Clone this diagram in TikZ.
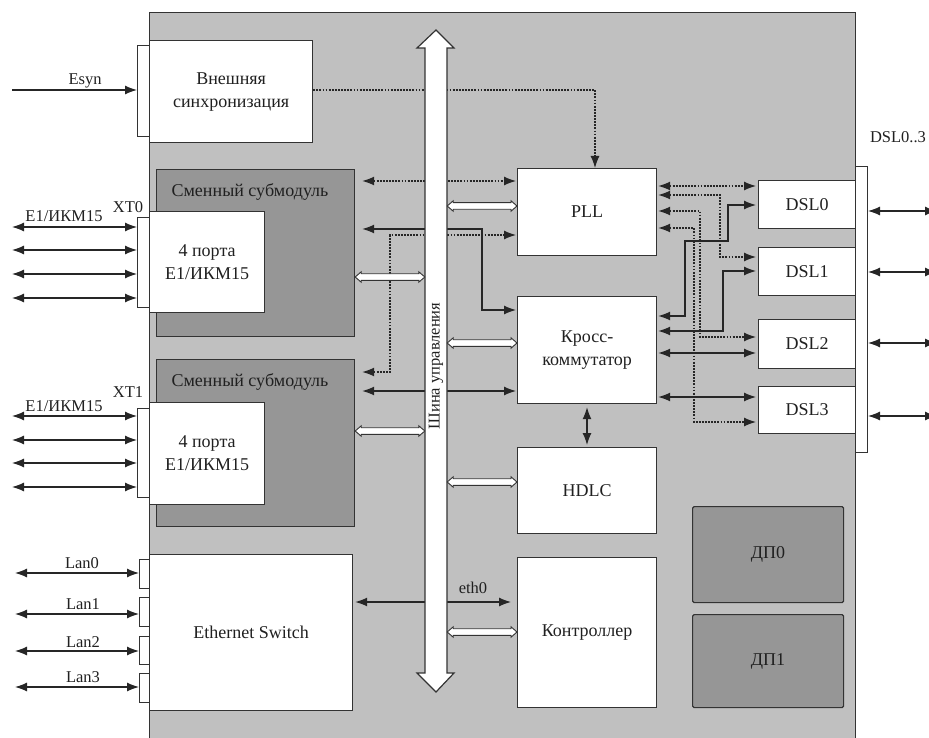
\documentclass[tikz,border=0pt]{standalone}
\usepackage{fontspec}
\setmainfont{Liberation Serif}
\usetikzlibrary{arrows.meta,calc}
\definecolor{panelgray}{HTML}{C0C0C0}
\definecolor{darkgray}{HTML}{969696}
\definecolor{edgecol}{HTML}{333333}
\definecolor{txtcol}{HTML}{202020}
\newcommand\blkfont{\fontsize{18}{23}\selectfont}
\newcommand\lblfont{\fontsize{16.5}{19}\selectfont}
\newcommand\hollowarr[2]{%
  \draw[edgecol, line width=0.9pt, fill=white] let \p1=#1, \p2=#2 in
    (\x1,\y1) -- (\x1+6pt,\y1+5.2pt) -- (\x1+6pt,\y1+3.3pt) -- (\x2-6pt,\y1+3.3pt)
    -- (\x2-6pt,\y1+5.2pt) -- (\x2,\y1) -- (\x2-6pt,\y1-5.2pt) -- (\x2-6pt,\y1-3.3pt)
    -- (\x1+6pt,\y1-3.3pt) -- (\x1+6pt,\y1-5.2pt) -- cycle;}
\begin{document}
\begin{tikzpicture}[x=1pt,y=-1pt,
  >={Latex[length=12pt,width=9pt]},
  whitebox/.style={draw=edgecol, line width=1.2pt, fill=white, anchor=north west,
    inner sep=0pt, font=\blkfont, text=txtcol, align=center},
  darkbox/.style={whitebox, fill=darkgray},
  tabbox/.style={draw=edgecol, line width=1pt, fill=white, anchor=north west, inner sep=0pt},
  lbl/.style={font=\lblfont, text=txtcol, anchor=base, inner sep=0pt},
  conline/.style={line width=1.2pt, draw=black!85},
  dotline/.style={conline, dash pattern=on 1.8pt off 1.3pt}]
\useasboundingbox (0,0) rectangle (929,738);
% main panel
\node[draw=edgecol, line width=1.2pt, fill=panelgray, anchor=north west, inner sep=0pt,
  minimum width=706pt, minimum height=740pt] (panel) at (149,12) {};
% blocks
\node[whitebox, minimum width=163pt, minimum height=102pt] (ext) at (149,40) {Внешняя\\синхронизация};
\node[tabbox, minimum width=12pt, minimum height=91pt] (tabE) at (137,45) {};
\node[darkbox, minimum width=198pt, minimum height=167pt] (sm1) at (156,169) {};
\node[lbl, font=\blkfont] (sm1l) at (250,197) {Сменный субмодуль};
\node[whitebox, minimum width=115pt, minimum height=101pt] (p1) at (149,211) {4 порта\\E1/ИКМ15};
\node[tabbox, minimum width=12pt, minimum height=90pt] (tab0) at (137,217) {};
\node[darkbox, minimum width=198pt, minimum height=167pt] (sm2) at (156,359) {};
\node[lbl, font=\blkfont] (sm2l) at (250,386) {Сменный субмодуль};
\node[whitebox, minimum width=115pt, minimum height=102pt] (p2) at (149,402) {4 порта\\E1/ИКМ15};
\node[tabbox, minimum width=12pt, minimum height=89pt] (tab1) at (137,408) {};
\node[whitebox, minimum width=203pt, minimum height=156pt] (eth) at (149,554) {Ethernet Switch};
\node[tabbox, minimum width=10pt, minimum height=29pt] (lan0) at (139,559) {};
\node[tabbox, minimum width=10pt, minimum height=29pt] (lan1) at (139,597) {};
\node[tabbox, minimum width=10pt, minimum height=28pt] (lan2) at (139,636) {};
\node[tabbox, minimum width=10pt, minimum height=29pt] (lan3) at (139,673) {};
\node[whitebox, minimum width=139pt, minimum height=87pt] (pll) at (517,168) {PLL};
\node[whitebox, minimum width=139pt, minimum height=107pt] (cross) at (517,296) {Кросс-\\коммутатор};
\node[whitebox, minimum width=139pt, minimum height=86pt] (hdlc) at (517,447) {HDLC};
\node[whitebox, minimum width=139pt, minimum height=150pt] (ctrl) at (517,557) {Контроллер};
\node[whitebox, minimum width=97pt, minimum height=48pt] (dsl0) at (758,180) {DSL0};
\node[whitebox, minimum width=97pt, minimum height=48pt] (dsl1) at (758,247) {DSL1};
\node[whitebox, minimum width=97pt, minimum height=49pt] (dsl2) at (758,319) {DSL2};
\node[whitebox, minimum width=97pt, minimum height=47pt] (dsl3) at (758,386) {DSL3};
\node[tabbox, minimum width=12pt, minimum height=286pt] (dtab) at (855,166) {};
\node[darkbox, minimum width=151pt, minimum height=96pt, rounded corners=1.5pt] (dp0) at (692,506) {ДП0};
\node[darkbox, minimum width=151pt, minimum height=93pt, rounded corners=1.5pt] (dp1) at (692,614) {ДП1};
% labels
\node[lbl] (esynl) at (85,85) {Esyn};
\node[lbl] (xt0l) at (128,213) {XT0};
\node[lbl] (xt1l) at (128,397) {XT1};
\node[lbl] (e1a) at (64,222) {E1/ИКМ15};
\node[lbl] (e1b) at (64,411) {E1/ИКМ15};
\node[lbl] (lan0l) at (82,568) {Lan0};
\node[lbl] (lan1l) at (83,609) {Lan1};
\node[lbl] (lan2l) at (83,647) {Lan2};
\node[lbl] (lan3l) at (83,682) {Lan3};
\node[lbl] (eth0l) at (473,593) {eth0};
\node[lbl] (dsll) at (898,143) {DSL0..3};
% free ends
\coordinate (esynin) at (12,90);
\draw[conline,->] (esynin) -- (tabE.west |- esynin);
\foreach \yy [count=\i] in {227,250,274,298}{
  \coordinate (xa\i) at (12,\yy);
  \draw[conline,<->] (xa\i) -- (tab0.west |- xa\i);}
\foreach \yy [count=\i] in {416,440,463,487}{
  \coordinate (xb\i) at (12,\yy);
  \draw[conline,<->] (xb\i) -- (tab1.west |- xb\i);}
\coordinate (la0) at (15,573);
\coordinate (la1) at (15,614);
\coordinate (la2) at (15,651);
\coordinate (la3) at (15,687);
\draw[conline,<->] (la0) -- (lan0.west |- la0);
\draw[conline,<->] (la1) -- (lan1.west |- la1);
\draw[conline,<->] (la2) -- (lan2.west |- la2);
\draw[conline,<->] (la3) -- (lan3.west |- la3);
\foreach \yy [count=\i] in {211,272,343,416}{
  \coordinate (dr\i) at (937,\yy);
  \draw[conline,<->] (dtab.east |- dr\i) -- (dr\i);}
% sync
\draw[dotline,->] (ext.east |- 0,90) -| (pll.north -| 595,0);
% left of bus
\draw[dotline,<->,shorten <=7pt,shorten >=1pt] (sm1.east |- 0,181) -- (pll.west |- 0,181);
\draw[conline,<->,shorten <=7pt,shorten >=1pt] (sm1.east |- 0,229) -- (482,229) |- (cross.west |- 0,310);
\draw[dotline,<->,shorten <=7pt,shorten >=1pt] (sm2.east |- 0,372) -- (390,372) |- (pll.west |- 0,235);
\draw[conline,<->,shorten <=7pt,shorten >=1pt] (sm2.east |- 0,391) -- (cross.west |- 0,391);
\draw[conline,<->,shorten <=2pt,shorten >=6pt] (eth.east |- 0,602) -- (ctrl.west |- 0,602);
\draw[conline,<->,shorten <=3pt,shorten >=2pt] (cross.south -| 587,0) -- (hdlc.north -| 587,0);
% right side
\draw[dotline,<->,shorten <=1pt,shorten >=2pt] (pll.east |- 0,186) -- (dsl0.west |- 0,186);
\draw[dotline,<->,shorten <=1pt,shorten >=2pt] (pll.east |- 0,195) -- (720,195) |- (dsl1.west |- 0,257);
\draw[dotline,<->,shorten <=1pt,shorten >=2pt] (pll.east |- 0,211) -- (700,211) |- (dsl2.west |- 0,337);
\draw[dotline,<->,shorten <=1pt,shorten >=2pt] (pll.east |- 0,228) -- (694,228) |- (dsl3.west |- 0,422);
\draw[conline,<->,shorten <=1pt,shorten >=2pt] (cross.east |- 0,316) -- (685,316) -- (685,241) -- (728,241) |- (dsl0.west |- 0,205);
\draw[conline,<->,shorten <=1pt,shorten >=2pt] (cross.east |- 0,331) -- (723,331) |- (dsl1.west |- 0,271);
\draw[conline,<->,shorten <=1pt,shorten >=2pt] (cross.east |- 0,353) -- (dsl2.west |- 0,353);
\draw[conline,<->,shorten <=1pt,shorten >=2pt] (cross.east |- 0,397) -- (dsl3.west |- 0,397);
% bus
\node[inner sep=0pt, minimum width=22pt, minimum height=625pt] (bus) at (436,360.5) {};
\draw[edgecol, line width=1.2pt, fill=white] (425,48) -- (417,48) -- (436,30) -- (454,48) -- (447,48)
  -- (447,673) -- (454,673) -- (436,692) -- (417,673) -- (425,673) -- cycle;
\node[font=\lblfont, text=txtcol, rotate=90, inner sep=0pt] (busl) at (436,366) {Шина управления};
% hollow arrows
\hollowarr{(bus.east |- 0,206)}{(pll.west |- 0,206)}
\hollowarr{(sm1.east |- 0,277)}{(bus.west |- 0,277)}
\hollowarr{(bus.east |- 0,343)}{(cross.west |- 0,343)}
\hollowarr{(sm2.east |- 0,431)}{(bus.west |- 0,431)}
\hollowarr{(bus.east |- 0,482)}{(hdlc.west |- 0,482)}
\hollowarr{(bus.east |- 0,632)}{(ctrl.west |- 0,632)}
\end{tikzpicture}
\end{document}
